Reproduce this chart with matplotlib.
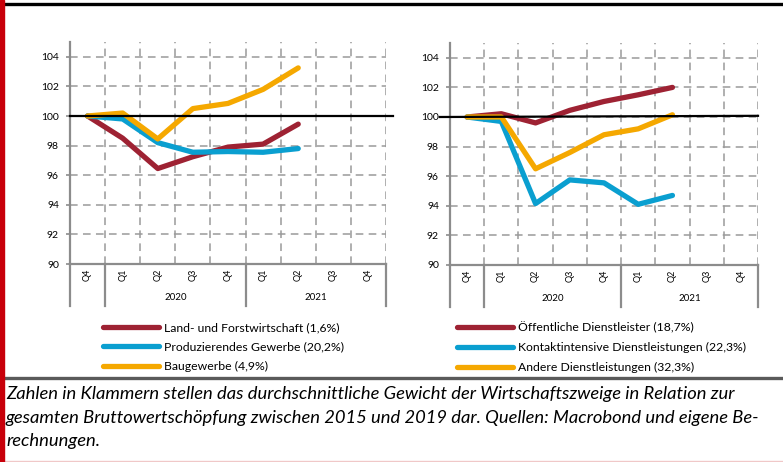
import numpy as np
import matplotlib.pyplot as plt
from matplotlib.lines import Line2D
from matplotlib.patches import Rectangle
import matplotlib.transforms as mtransforms

plt.rcParams['font.family'] = ['Lato', 'DejaVu Sans']

# categories along the x axis
quarters = ['Q4', 'Q1', 'Q2', 'Q3', 'Q4', 'Q1', 'Q2', 'Q3', 'Q4']
years = ['2020', '2021']
year_spans = [(1, 5), (5, 9)]

# left panel: index, Q4 2019 = 100
land = [100, 98.5, 96.45, 97.25, 97.9, 98.1, 99.45]
produz = [100, 99.8, 98.2, 97.55, 97.6, 97.55, 97.8]
bau = [100, 100.2, 98.45, 100.5, 100.85, 101.8, 103.25]

# right panel
oeffentlich = [100, 100.22, 99.6, 100.45, 101.05, 101.5, 102.0]
kontakt = [100, 99.7, 94.15, 95.75, 95.55, 94.1, 94.7]
andere = [100, 100.0, 96.5, 97.6, 98.8, 99.2, 100.15]

labels_left = ['Land- und Forstwirtschaft (1,6%)', 'Produzierendes Gewerbe (20,2%)',
               'Baugewerbe (4,9%)']
labels_right = ['Öffentliche Dienstleister (18,7%)', 'Kontaktintensive Dienstleistungen (22,3%)',
                'Andere Dienstleistungen (32,3%)']

red = '#9e2233'
blue = '#0a9fd0'
orange = '#f5a800'
grid_c = '#9a9a9a'
axis_c = '#8c8c8c'

W, H = 783, 462
fig = plt.figure(figsize=(W / 100, H / 100), dpi=100)


def box(l, t, r, b):
    return [l / W, 1 - b / H, (r - l) / W, (b - t) / H]


def panel(ax, series, labels, line_from, line_to, line_end_y):
    x = np.arange(len(series[0])) + 0.5
    ax.set_xlim(0, len(quarters))
    ax.set_ylim(90, 105)
    for s, c, lab in zip(series, [red, blue, orange], labels):
        ax.plot(x, s, color=c, lw=3.8, solid_capstyle='round',
                solid_joinstyle='round', label=lab, zorder=3)
    # reference line at 100
    ax.plot([line_from, line_to], [100, line_end_y], color='black', lw=1.6,
            clip_on=False, zorder=4)
    ax.set_yticks(np.arange(90, 105, 2))
    ax.set_xticks(np.arange(len(quarters)) + 0.5)
    ax.set_xticklabels(quarters, rotation=90, fontsize=6.5)
    ax.tick_params(axis='x', length=0, pad=3)
    ax.tick_params(axis='y', length=3, width=1.2, color=axis_c, labelsize=7.5, pad=5)
    for xv in range(1, len(quarters) + 1):
        ax.axvline(xv, color=grid_c, lw=1.1, ls=(0, (5, 3.5)), zorder=1)
    for yv in range(92, 105, 2):
        ax.axhline(yv, color=grid_c, lw=1.1, ls=(0, (5, 3.5)), zorder=1)
    for side in ['top', 'right']:
        ax.spines[side].set_visible(False)
    for side in ['left', 'bottom']:
        ax.spines[side].set_color(axis_c)
        ax.spines[side].set_linewidth(1.6)
    trans = mtransforms.blended_transform_factory(ax.transData, ax.transAxes)
    for xv in [0, 1, 5, 9]:
        ax.plot([xv, xv], [0, -0.19], color=axis_c, lw=1.6, transform=trans,
                clip_on=False)
    for yr, (a, b) in zip(years, year_spans):
        ax.text((a + b) / 2, -0.15, yr, transform=trans, ha='center', va='center',
                fontsize=7)


axL = fig.add_axes(box(70, 42, 386, 264))
axR = fig.add_axes(box(450, 43, 758, 265))
panel(axL, [land, produz, bau], labels_left, 0, 9.2, 100)
panel(axR, [oeffentlich, kontakt, andere], labels_right, -0.3, 9, 100.08)

for ax, x0 in [(axL, 103), (axR, 457)]:
    ax.legend(loc='upper left', bbox_to_anchor=(x0 / W, 1 - 322 / H),
              bbox_transform=fig.transFigure, frameon=False, fontsize=8.8,
              handlelength=4.6, handletextpad=0.35, labelspacing=0.7,
              borderpad=0, borderaxespad=0)

# frame decorations
fig.add_artist(Rectangle((0, 0), 3.5 / W, 1, transform=fig.transFigure,
                         color='#c8000a', zorder=5))
fig.add_artist(Line2D([3 / W, 1], [1 - 4 / H] * 2, color='black', lw=2.4))
fig.add_artist(Line2D([3 / W, 1], [1 - 378 / H] * 2, color='#5a5a5a', lw=2.4))
fig.add_artist(Line2D([3 / W, 1], [1 - 460.5 / H] * 2, color='#f0c8c8', lw=1))

caption = ('Zahlen in Klammern stellen das durchschnittliche Gewicht der Wirtschaftszweige in Relation zur\n'
           'gesamten Bruttowertschöpfung zwischen 2015 und 2019 dar. Quellen: Macrobond und eigene Be-\n'
           'rechnungen.')
fig.text(6 / W, 1 - 386 / H, caption, ha='left', va='top', fontsize=13.2,
         style='italic', linespacing=1.58)

fig.savefig('out.png', dpi=100)
